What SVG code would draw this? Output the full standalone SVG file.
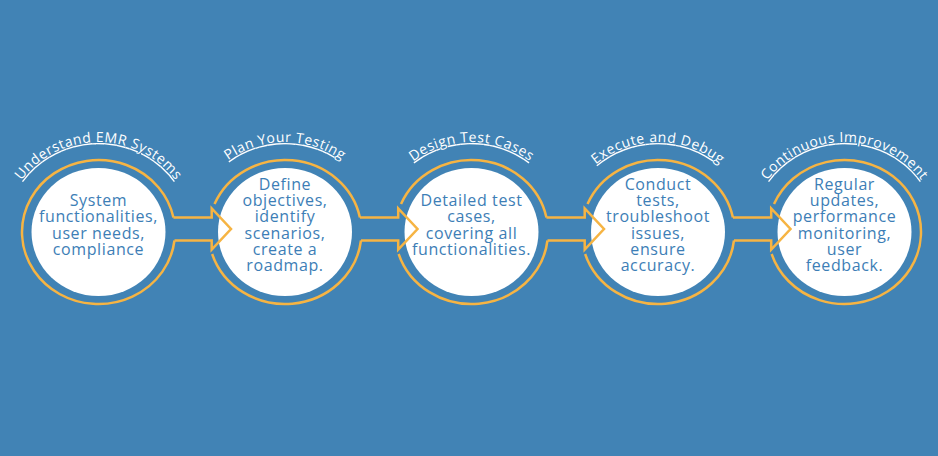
<svg xmlns="http://www.w3.org/2000/svg" width="938" height="456" viewBox="0 0 938 456">
<style>
.bg{fill:#4183B5}
.ring{fill:none;stroke:#F6B443;stroke-width:2.5}
.conn{fill:none;stroke:#F6B443;stroke-width:2.5;stroke-linejoin:miter}
.disc{fill:#FFFFFF}
.body{font-family:"Open Sans","Liberation Sans",sans-serif;font-size:16px;letter-spacing:0.6px;fill:#3D7EB6;text-anchor:middle}
.title{font-family:"Open Sans","Liberation Sans",sans-serif;font-size:14px;letter-spacing:0.5px;fill:#FFFFFF;text-decoration:underline}
</style>
<defs>
<path id="arc1" d="M4.5,232 A94 90 0 0 1 192.5,232"/>
<path id="arc2" d="M191,232 A94 90 0 0 1 379,232"/>
<path id="arc3" d="M377.5,232 A94 90 0 0 1 565.5,232"/>
<path id="arc4" d="M564,232 A94 90 0 0 1 752,232"/>
<path id="arc5" d="M750.5,232 A94 90 0 0 1 938.5,232"/>
</defs>
<rect class="bg" x="0" y="0" width="938" height="456"/>

<g id="node1">
<ellipse class="disc" cx="98.5" cy="232" rx="67" ry="64"/>
<path class="ring" d="M173.43,217.5 A76.5 72 0 1 0 174.47,240.5"/>
<text class="title"><textPath href="#arc1" startOffset="50%" text-anchor="middle">Understand EMR Systems</textPath></text>
<text class="body" x="98.5" y="206.05">System</text>
<text class="body" x="98.5" y="222.35">functionalities,</text>
<text class="body" x="98.5" y="238.65">user needs,</text>
<text class="body" x="98.5" y="254.95">compliance</text>
</g>

<g id="node2">
<ellipse class="disc" cx="285" cy="232" rx="67" ry="64"/>
<path class="ring" d="M214.52,204 A76.5 72 0 0 1 359.93,217.5 M360.97,240.5 A76.5 72 0 0 1 212.16,254"/>
<text class="title"><textPath href="#arc2" startOffset="50%" text-anchor="middle">Plan Your Testing</textPath></text>
<text class="body" x="285" y="189.75">Define</text>
<text class="body" x="285" y="206.05">objectives,</text>
<text class="body" x="285" y="222.35">identify</text>
<text class="body" x="285" y="238.65">scenarios,</text>
<text class="body" x="285" y="254.95">create a</text>
<text class="body" x="285" y="271.25">roadmap.</text>
</g>

<g id="node3">
<ellipse class="disc" cx="471.5" cy="232" rx="67" ry="64"/>
<path class="ring" d="M401.02,204 A76.5 72 0 0 1 546.43,217.5 M547.47,240.5 A76.5 72 0 0 1 398.66,254"/>
<text class="title"><textPath href="#arc3" startOffset="50%" text-anchor="middle">Design Test Cases</textPath></text>
<text class="body" x="471.5" y="206.05">Detailed test</text>
<text class="body" x="471.5" y="222.35">cases,</text>
<text class="body" x="471.5" y="238.65">covering all</text>
<text class="body" x="471.5" y="254.95">functionalities.</text>
</g>

<g id="node4">
<ellipse class="disc" cx="658" cy="232" rx="67" ry="64"/>
<path class="ring" d="M587.52,204 A76.5 72 0 0 1 732.93,217.5 M733.97,240.5 A76.5 72 0 0 1 585.16,254"/>
<text class="title"><textPath href="#arc4" startOffset="50%" text-anchor="middle">Execute and Debug</textPath></text>
<text class="body" x="658" y="189.75">Conduct</text>
<text class="body" x="658" y="206.05">tests,</text>
<text class="body" x="658" y="222.35">troubleshoot</text>
<text class="body" x="658" y="238.65">issues,</text>
<text class="body" x="658" y="254.95">ensure</text>
<text class="body" x="658" y="271.25">accuracy.</text>
</g>

<g id="node5">
<ellipse class="disc" cx="844.5" cy="232" rx="67" ry="64"/>
<path class="ring" d="M774.02,204 A76.5 72 0 1 1 771.66,254"/>
<text class="title"><textPath href="#arc5" startOffset="50%" text-anchor="middle">Continuous Improvement</textPath></text>
<text class="body" x="844.5" y="189.75">Regular</text>
<text class="body" x="844.5" y="206.05">updates,</text>
<text class="body" x="844.5" y="222.35">performance</text>
<text class="body" x="844.5" y="238.65">monitoring,</text>
<text class="body" x="844.5" y="254.95">user</text>
<text class="body" x="844.5" y="271.25">feedback.</text>
</g>

<g id="connectors">
<path class="conn" d="M173.43,217.5 H211.7 V208.5 L231,229 L211.7,249.5 V240.5 H174.47"/>
<path class="conn" d="M359.93,217.5 H398.2 V208.5 L417.5,229 L398.2,249.5 V240.5 H360.97"/>
<path class="conn" d="M546.43,217.5 H584.7 V208.5 L604,229 L584.7,249.5 V240.5 H547.47"/>
<path class="conn" d="M732.93,217.5 H771.2 V208.5 L790.5,229 L771.2,249.5 V240.5 H733.97"/>
</g>
</svg>
